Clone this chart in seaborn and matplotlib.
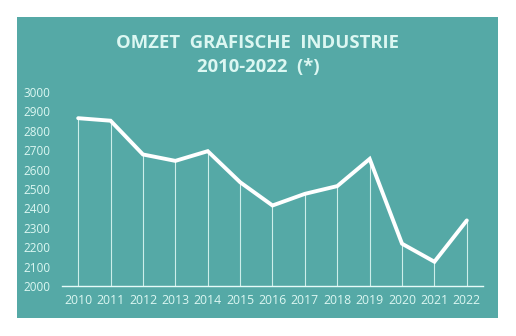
import matplotlib
matplotlib.use("Agg")
import matplotlib.pyplot as plt
import seaborn as sns
import pandas as pd
from matplotlib.patches import Rectangle

years = [2010, 2011, 2012, 2013, 2014, 2015, 2016, 2017, 2018, 2019, 2020, 2021, 2022]
omzet = [2865, 2852, 2678, 2645, 2695, 2535, 2415, 2475, 2515, 2655, 2218, 2125, 2338]
y_ticks = [2000, 2100, 2200, 2300, 2400, 2500, 2600, 2700, 2800, 2900, 3000]
title = "OMZET  GRAFISCHE  INDUSTRIE\n2010-2022  (*)"

df = pd.DataFrame({"jaar": years, "omzet": omzet})

sns.set_theme(style="white")
plt.rcParams['font.family'] = ['Open Sans', 'DejaVu Sans']

teal = "#55a9a6"
light = "#dcf7f2"

fig = plt.figure(figsize=(5.16, 3.36), dpi=100)
fig.patch.set_facecolor("white")
bg = Rectangle((17/516, 1-318/336), (498-17)/516, (318-17)/336,
               transform=fig.transFigure, facecolor=teal, edgecolor="none", zorder=-10)
fig.add_artist(bg)

ax = fig.add_axes([62/516, 1-286/336, (483-62)/516, (286-92)/336])
ax.set_zorder(5)
ax.set_facecolor("none")
ax.patch.set_alpha(0)

ax.vlines(df["jaar"], 2000, df["omzet"], color="#cdeeea", linewidth=0.8, zorder=1)
sns.lineplot(data=df, x="jaar", y="omzet", ax=ax, color="white", linewidth=2.8,
             zorder=3, solid_joinstyle="miter")

ax.set_xlim(2009.5, 2022.5)
ax.set_ylim(2000, 3000)
ax.set_yticks(y_ticks)
ax.set_yticklabels([str(v) for v in y_ticks], color=light, fontsize=8.5)
ax.set_xticks(years)
ax.set_xticklabels([str(y) for y in years], color=light, fontsize=8.8)
ax.tick_params(axis="both", length=0)
ax.tick_params(axis="y", pad=8.5)
ax.tick_params(axis="x", pad=5.5)
ax.set_xlabel("")
ax.set_ylabel("")
for s in ["top", "right", "left"]:
    ax.spines[s].set_visible(False)
ax.spines["bottom"].set_color("#e6fbf8")
ax.spines["bottom"].set_linewidth(1.0)
ax.grid(False)

fig.text(0.5, 1-55/336, title, ha="center", va="center", color=light,
         fontsize=13.3, fontweight="bold", linespacing=1.45, zorder=10)

fig.savefig("out.png", dpi=100, facecolor="white")
